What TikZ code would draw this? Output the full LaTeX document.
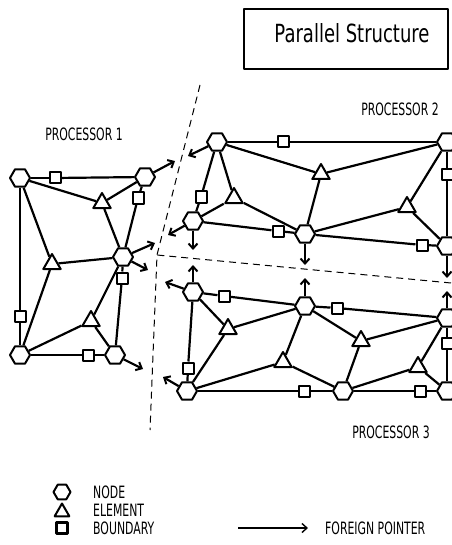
\documentclass[tikz,border=0pt]{standalone}
\usepackage{fontspec}
\setmainfont{DejaVu Sans}[FakeStretch=0.64]
\newfontfamily\titlefont{DejaVu Sans}[FakeStretch=0.72]
\usetikzlibrary{shapes.geometric,arrows.meta}

\begin{document}
\begin{tikzpicture}[x=1pt, y=-1pt, line join=round,
  hexnode/.style={regular polygon, regular polygon sides=6, draw, fill=white, line width=2pt, minimum size=20pt, inner sep=0pt},
  elem/.style={regular polygon, regular polygon sides=3, draw, fill=white, line width=2pt, minimum size=20pt, inner sep=0pt},
  bnd/.style={rectangle, draw, fill=white, line width=2pt, minimum size=11pt, inner sep=0pt},
  edge/.style={line width=2.2pt},
  fptr/.style={line width=2.2pt, -{Straight Barb[length=5pt,width=9pt,line width=2pt]}},
  part/.style={line width=1pt, dash pattern=on 7pt off 5pt},
  lbl/.style={font=\fontsize{17}{19}\selectfont, anchor=base, inner sep=0pt}]
  \useasboundingbox (0,0) rectangle (451,545);
  % title
  \node[draw, line width=1.6pt, minimum width=204pt, minimum height=60pt, anchor=north west] (title) at (243,8) {};
  \node[font=\titlefont\fontsize{25}{27}\selectfont, anchor=base, inner sep=0pt] (titletext) at (352,43) {Parallel Structure};
  % partition cuts
  \coordinate (cuttop) at (200,85);
  \coordinate (cutcorner) at (157,255);
  \coordinate (cutright) at (451,283);
  \coordinate (cutbottom) at (150,430);
  \draw[part] (cuttop) -- (cutcorner);
  \draw[part] (cutright) -- (cutcorner) -- (cutbottom);
  % nodes (hexagons)
  \foreach \n/\x/\y in {p1a/20/178, p1b/145/177, p1c/123/257, p1d/20/355, p1e/115/355,
      p2f/217/142, p2g/447/142, p2h/193/221, p2i/305/234, p2j/447/246,
      p3k/193/292, p3l/305/306, p3m/447/318, p3n/187/391, p3o/343/391, p3p/447/391}
    \node[hexnode] (\n) at (\x,\y) {};
  % elements (triangles)
  \foreach \n/\x/\y in {e1a/102/203, e1b/52/264, e1c/91/321,
      e2a/321/174, e2b/234/198, e2c/407/207,
      e3a/228/329, e3b/361/341, e3c/283/362, e3d/418/367}
    \node[elem] (\n) at (\x,\y) {};
  % boundaries (squares)
  \foreach \n/\x/\y in {b1ab/55/178, b1bc/138/198, b1ad/20/316, b1ce/122/278, b1de/88/355,
      b2fg/283/142, b2fh/201/197, b2hi/278/231, b2ij/422/245, b2gj/447/175,
      b3kl/224/296, b3lm/337/308, b3kn/188/368, b3no/304/391, b3op/420/391, b3mp/447/343}
    \node[bnd] (\n) at (\x,\y) {};
  % mesh edges
  \foreach \u/\v in {p1a/b1ab, b1ab/p1b, p1a/e1a, e1a/p1b, p1b/b1bc, b1bc/p1c, e1a/p1c,
      p1a/e1b, e1b/p1c, p1a/b1ad, b1ad/p1d, p1d/e1b, p1d/e1c, e1c/p1c, e1c/p1e,
      p1d/b1de, b1de/p1e, p1c/b1ce, b1ce/p1e}
    \draw[edge] (\u) -- (\v);
  \foreach \u/\v in {p2f/b2fg, b2fg/p2g, p2f/e2a, e2a/p2g, p2f/b2fh, b2fh/p2h, p2f/e2b,
      e2b/p2i, p2h/e2b, p2h/b2hi, b2hi/p2i, p2i/e2a, p2i/e2c, e2c/p2g, e2c/p2j,
      p2i/b2ij, b2ij/p2j, p2g/b2gj, b2gj/p2j}
    \draw[edge] (\u) -- (\v);
  \foreach \u/\v in {p3k/b3kl, b3kl/p3l, p3l/b3lm, b3lm/p3m, p3k/b3kn, b3kn/p3n,
      p3k/e3a, e3a/p3l, p3n/e3a, p3n/e3c, e3c/p3l, e3c/p3o, p3l/e3b, e3b/p3m, e3b/p3o,
      p3o/e3d, e3d/p3m, e3d/p3p, p3n/b3no, b3no/p3o, p3o/b3op, b3op/p3p, p3m/b3mp, b3mp/p3p}
    \draw[edge] (\u) -- (\v);
  % foreign pointers
  \foreach \n/\s/\x/\y in {f1/p1b/175/161, f2/p1c/155/243, f3/p1c/148/270, f4/p1e/143/369,
      f5/p2f/188/156, f6/p2h/168/235, f7/p2h/193/250, f8/p2i/305/265, f9/p2j/447/278,
      f10/p3k/193/265, f11/p3k/165/282, f12/p3l/305/278, f13/p3m/447/291, f14/p3n/163/377}{
    \coordinate (\n) at (\x,\y);
    \draw[fptr] (\s) -- (\n);
  }
  % labels
  \node[lbl] (proc1) at (84,141) {PROCESSOR 1};
  \node[lbl] (proc2) at (400,116) {PROCESSOR 2};
  \node[lbl] (proc3) at (391,438) {PROCESSOR 3};
  % legend
  \node[hexnode, minimum size=17pt] (keynode) at (62,492) {};
  \node[elem, minimum size=17pt] (keyelem) at (62,512) {};
  \node[bnd, line width=2.6pt, minimum size=11pt] (keybnd) at (62,528) {};
  \node[lbl, anchor=base west] (keynodetext) at (93,498) {NODE};
  \node[lbl, anchor=base west] (keyelemtext) at (93,516) {ELEMENT};
  \node[lbl, anchor=base west] (keybndtext) at (93,534) {BOUNDARY};
  \coordinate (keyfrom) at (238,528);
  \coordinate (keyto) at (308,528);
  \draw[line width=1.4pt, -{Straight Barb[length=5pt,width=9pt]}] (keyfrom) -- (keyto);
  \node[lbl, anchor=base west] (keyptrtext) at (325,534) {FOREIGN POINTER};
\end{tikzpicture}
\end{document}
